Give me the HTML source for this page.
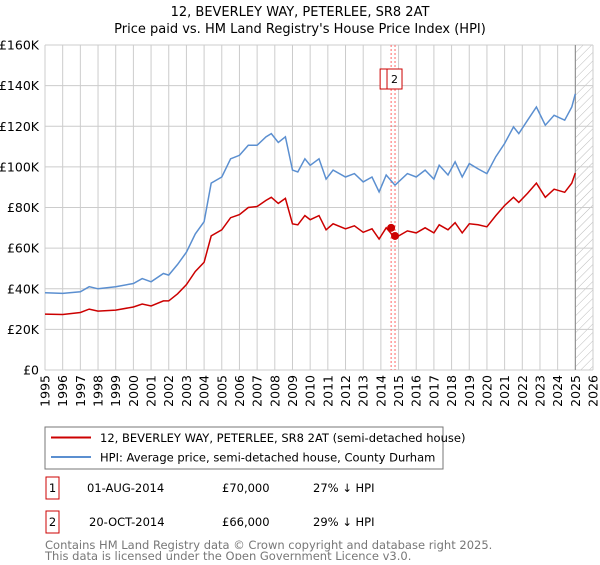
<!DOCTYPE html>
<html><head><meta charset="utf-8"><style>
body{margin:0;background:#fff;font-family:"Liberation Sans","DejaVu Sans",sans-serif;}
svg text{font-family:"DejaVu Sans","Liberation Sans",sans-serif;}
</style></head><body>
<svg id="c" width="600" height="560" xmlns="http://www.w3.org/2000/svg">
<defs><pattern id="hatch" width="6" height="6" patternUnits="userSpaceOnUse" patternTransform="rotate(45)"><line x1="0" y1="0" x2="0" y2="6" stroke="#bbb" stroke-width="1"/></pattern></defs>
<text x="300" y="16" text-anchor="middle" font-size="13">12, BEVERLEY WAY, PETERLEE, SR8 2AT</text>
<text x="300" y="33" text-anchor="middle" font-size="13">Price paid vs. HM Land Registry's House Price Index (HPI)</text>
<g id="grid"></g><g id="marks"></g>
<rect x="45" y="427" width="398" height="42" fill="#fff" stroke="#777"/>
<line x1="51" y1="437.5" x2="91" y2="437.5" stroke="#cc0000" stroke-width="2"/>
<text x="100" y="442" font-size="11.5">12, BEVERLEY WAY, PETERLEE, SR8 2AT (semi-detached house)</text>
<line x1="51" y1="457" x2="91" y2="457" stroke="#5b8fd0" stroke-width="2"/>
<text x="100" y="461.5" font-size="11.5">HPI: Average price, semi-detached house, County Durham</text>
<g font-size="11.5">
<rect x="46" y="477" width="13" height="22" fill="#fff" stroke="#cc0000"/><text x="52.5" y="492" text-anchor="middle">1</text>
<text x="87" y="492">01-AUG-2014</text><text x="222" y="492">£70,000</text><text x="313" y="492">27% ↓ HPI</text>
<rect x="46" y="511" width="13" height="22" fill="#fff" stroke="#cc0000"/><text x="52.5" y="526" text-anchor="middle">2</text>
<text x="89" y="526">20-OCT-2014</text><text x="222" y="526">£66,000</text><text x="313" y="526">29% ↓ HPI</text>
</g>
<text x="45" y="549" font-size="11.5" fill="#777">Contains HM Land Registry data © Crown copyright and database right 2025.</text>
<text x="45" y="560" font-size="11.5" fill="#777">This data is licensed under the Open Government Licence v3.0.</text>
</svg>
<script>
const hpiYears=[1995,1996,1997,1997.5,1998,1999,2000,2000.5,2001,2001.7,2002,2002.5,2003,2003.5,2004,2004.4,2005,2005.5,2006,2006.5,2007,2007.5,2007.8,2008.2,2008.6,2009,2009.3,2009.7,2010,2010.5,2010.9,2011.3,2012,2012.5,2013,2013.5,2013.9,2014.3,2014.8,2015.5,2016,2016.5,2017,2017.3,2017.8,2018.2,2018.6,2019,2019.5,2020,2020.5,2021,2021.5,2021.8,2022.3,2022.8,2023.3,2023.8,2024.4,2024.8,2025.0];
const hpiValues=[38,37.7,38.5,41,40,41,42.6,45,43.4,47.5,46.7,52,58,67,73,92,95,104,105.7,110.6,110.6,114.8,116.4,112,114.8,98.4,97.5,104,100.8,104,94,98.4,95,96.7,92.6,95,87.7,96,91,96.7,95,98.4,94,100.8,96,102.5,95,101.6,99,96.7,105,111.5,119.7,116.4,123,129.5,120.5,125.4,123,129.5,136];
const priceValues=[27.5,27.3,28.3,30,29,29.5,31,32.5,31.5,34,34,37.5,42,48.5,53,66,69,75,76.5,80,80.5,83.5,85,82,84.5,72,71.5,76,74,76,69,72,69.5,71,67.8,69.5,64.5,70,65,68.5,67.5,70,67.5,71.5,69,72.5,67.5,72,71.5,70.5,76,81,85,82.5,87,92,85,89,87.5,92,97];
const saleYears=[2014.58,2014.8];
const saleValues=[70,66];
const yTicks=[0,20,40,60,80,100,120,140,160];
const xTicks=[1995,1996,1997,1998,1999,2000,2001,2002,2003,2004,2005,2006,2007,2008,2009,2010,2011,2012,2013,2014,2015,2016,2017,2018,2019,2020,2021,2022,2023,2024,2025,2026];
const NS="http://www.w3.org/2000/svg";
const X=y=>45+(y-1995)*(548/31), Y=v=>370-v*(325/160);
function mk(t,a,p){const e=document.createElementNS(NS,t);for(const k in a)e.setAttribute(k,a[k]);p.appendChild(e);return e;}
const g=document.getElementById('grid'),m=document.getElementById('marks');
mk('rect',{x:X(2025),y:45,width:X(2026)-X(2025),height:325,fill:'url(#hatch)'},g);
yTicks.forEach(v=>{const l=mk('line',{x1:45,x2:593,y1:Y(v),y2:Y(v),stroke:'#ccc'},g);


const t=mk('text',{x:39,y:Y(v)+4.5,'text-anchor':'end','font-size':'12.5'},g);t.textContent=v?'£'+v+'K':'£0';

});
xTicks.forEach(y=>{const l=mk('line',{x1:X(y),x2:X(y),y1:45,y2:370,stroke:'#ccc'},g);


const t=mk('text',{x:0,y:0,'text-anchor':'end','font-size':'12.5',transform:'translate('+(X(y)+4.5)+',375) rotate(-90)'},g);t.textContent=y;

});
mk('line',{x1:X(2025),x2:X(2025),y1:45,y2:370,stroke:'#888'},g);
saleYears.forEach(y=>{const l=mk('line',{x1:X(y),x2:X(y),y1:45,y2:370,stroke:'#f66','stroke-dasharray':'2,2'},m);

});
const b1=mk('rect',{x:X(saleYears[0])-11,y:69,width:15,height:20,fill:'#fff',stroke:'#cc0000'},m);


const b2=mk('rect',{x:X(saleYears[1])-8,y:69,width:15,height:20,fill:'#fff',stroke:'#cc0000'},m);


const bt=mk('text',{x:X(saleYears[1])-0.5,y:83,'text-anchor':'middle','font-size':'11'},m);bt.textContent='2';
function line(xs,vs,c,n){const p=mk('path',{d:xs.map((x,i)=>(i?'L':'M')+X(x).toFixed(1)+','+Y(vs[i]).toFixed(1)).join(''),fill:'none',stroke:c,'stroke-width':1.5},m);

}
line(hpiYears,hpiValues,'#5b8fd0','hpi-line');
line(hpiYears,priceValues,'#cc0000','price-line');
saleYears.forEach((y,i)=>{const c=mk('circle',{cx:X(y),cy:Y(saleValues[i]),r:4,fill:'#cc0000'},m);

});
</script>
</body></html>
